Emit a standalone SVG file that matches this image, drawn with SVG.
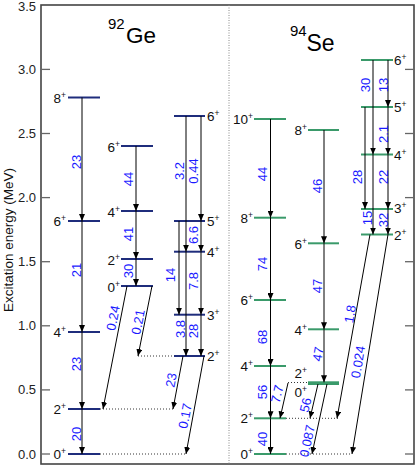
<svg xmlns="http://www.w3.org/2000/svg" width="415" height="474" viewBox="0 0 415 474">
<defs>
<marker id="ah" viewBox="0 0 7 6" refX="7" refY="3" markerWidth="7" markerHeight="6" markerUnits="userSpaceOnUse" orient="auto">
<path d="M0,0 L7,3 L0,6 z" fill="#000"/>
</marker>
</defs>
<style>
text{font-family:"Liberation Sans",Arial,sans-serif}
.tick{stroke:#666;stroke-width:1.3}
.tl{font-size:13px;fill:#222;text-anchor:end}
.ge{stroke:#1f2d7c;stroke-width:2}
.se{stroke:#3a9a6a;stroke-width:2}
.spin{font-size:13.5px;fill:#111}
.sup{font-size:8.5px}
.tr{stroke:#000;stroke-width:1;fill:none;marker-end:url(#ah)}
.dot{stroke:#000;stroke-width:0.8;stroke-dasharray:1,2}
.lab{font-size:13px;fill:#1a1aff;text-anchor:middle}
</style>
<rect width="415" height="474" fill="#fff"/>
<g id="axes">
<rect x="41" y="5" width="373" height="459" fill="none" stroke="#444" stroke-width="1.6"/>
<line x1="229" y1="5" x2="229" y2="464" stroke="#888" stroke-width="1" stroke-dasharray="1,1.5"/>
<g class="tick">
<line x1="41" y1="454" x2="50" y2="454"/><line x1="405" y1="454" x2="414" y2="454"/>
<line x1="41" y1="389.9" x2="50" y2="389.9"/><line x1="405" y1="389.9" x2="414" y2="389.9"/>
<line x1="41" y1="325.8" x2="50" y2="325.8"/><line x1="405" y1="325.8" x2="414" y2="325.8"/>
<line x1="41" y1="261.7" x2="50" y2="261.7"/><line x1="405" y1="261.7" x2="414" y2="261.7"/>
<line x1="41" y1="197.6" x2="50" y2="197.6"/><line x1="405" y1="197.6" x2="414" y2="197.6"/>
<line x1="41" y1="133.5" x2="50" y2="133.5"/><line x1="405" y1="133.5" x2="414" y2="133.5"/>
<line x1="41" y1="69.4" x2="50" y2="69.4"/><line x1="405" y1="69.4" x2="414" y2="69.4"/>
</g>
<text class="tl" x="36" y="458.5">0.0</text>
<text class="tl" x="36" y="394.4">0.5</text>
<text class="tl" x="36" y="330.3">1.0</text>
<text class="tl" x="36" y="266.2">1.5</text>
<text class="tl" x="36" y="202.1">2.0</text>
<text class="tl" x="36" y="138">2.5</text>
<text class="tl" x="36" y="73.9">3.0</text>
<text class="tl" x="36" y="10.5">3.5</text>
<text transform="translate(12.5,240) rotate(-90)" text-anchor="middle" font-size="13.5" fill="#111">Excitation energy (MeV)</text>
<text x="108" y="29" font-size="15" fill="#000">92</text>
<text x="126" y="43" font-size="22.5" fill="#000">Ge</text>
<text x="290" y="36" font-size="15" fill="#000">94</text>
<text x="306.5" y="51" font-size="23" fill="#000">Se</text>
</g>
<g id="ge-a8"><line class="ge" x1="68" y1="97.5" x2="100" y2="97.5"/><text class="spin" x="66" y="102.5" text-anchor="end">8<tspan class="sup" dy="-5">+</tspan></text></g>
<g id="ge-a6"><line class="ge" x1="68" y1="221" x2="100" y2="221"/><text class="spin" x="66" y="226" text-anchor="end">6<tspan class="sup" dy="-5">+</tspan></text></g>
<g id="ge-a4"><line class="ge" x1="68" y1="332" x2="100" y2="332"/><text class="spin" x="66" y="337" text-anchor="end">4<tspan class="sup" dy="-5">+</tspan></text></g>
<g id="ge-a2"><line class="ge" x1="68" y1="409" x2="100" y2="409"/><text class="spin" x="66" y="414" text-anchor="end">2<tspan class="sup" dy="-5">+</tspan></text></g>
<g id="ge-a0"><line class="ge" x1="68" y1="454" x2="100" y2="454"/><text class="spin" x="66" y="459" text-anchor="end">0<tspan class="sup" dy="-5">+</tspan></text></g>
<g id="ge-b6"><line class="ge" x1="121" y1="146" x2="153" y2="146"/><text class="spin" x="120" y="151.5" text-anchor="end">6<tspan class="sup" dy="-5">+</tspan></text></g>
<g id="ge-b4"><line class="ge" x1="121" y1="211" x2="153" y2="211"/><text class="spin" x="120" y="216.5" text-anchor="end">4<tspan class="sup" dy="-5">+</tspan></text></g>
<g id="ge-b2"><line class="ge" x1="121" y1="259" x2="153" y2="259"/><text class="spin" x="120" y="264.5" text-anchor="end">2<tspan class="sup" dy="-5">+</tspan></text></g>
<g id="ge-b0"><line class="ge" x1="121" y1="286" x2="153" y2="286"/><text class="spin" x="120" y="291.5" text-anchor="end">0<tspan class="sup" dy="-5">+</tspan></text></g>
<g id="ge-c6"><line class="ge" x1="174" y1="116" x2="205" y2="116"/><text class="spin" x="207" y="121">6<tspan class="sup" dy="-5">+</tspan></text></g>
<g id="ge-c5"><line class="ge" x1="174" y1="221" x2="205" y2="221"/><text class="spin" x="207" y="226">5<tspan class="sup" dy="-5">+</tspan></text></g>
<g id="ge-c4"><line class="ge" x1="174" y1="251.7" x2="205" y2="251.7"/><text class="spin" x="207" y="256.5">4<tspan class="sup" dy="-5">+</tspan></text></g>
<g id="ge-c3"><line class="ge" x1="174" y1="314.7" x2="205" y2="314.7"/><text class="spin" x="207" y="319.5">3<tspan class="sup" dy="-5">+</tspan></text></g>
<g id="ge-c2"><line class="ge" x1="174" y1="356" x2="205" y2="356"/><text class="spin" x="207" y="361">2<tspan class="sup" dy="-5">+</tspan></text></g>
<g id="se-a10"><line class="se" x1="254" y1="119" x2="286" y2="119"/><text class="spin" x="253" y="124" text-anchor="end">10<tspan class="sup" dy="-5">+</tspan></text></g>
<g id="se-a8"><line class="se" x1="254" y1="217.7" x2="286" y2="217.7"/><text class="spin" x="253" y="223" text-anchor="end">8<tspan class="sup" dy="-5">+</tspan></text></g>
<g id="se-a6"><line class="se" x1="254" y1="300" x2="286" y2="300"/><text class="spin" x="253" y="305" text-anchor="end">6<tspan class="sup" dy="-5">+</tspan></text></g>
<g id="se-a4"><line class="se" x1="254" y1="366" x2="286" y2="366"/><text class="spin" x="253" y="371" text-anchor="end">4<tspan class="sup" dy="-5">+</tspan></text></g>
<g id="se-a2"><line class="se" x1="254" y1="418.3" x2="286" y2="418.3"/><text class="spin" x="253" y="423.3" text-anchor="end">2<tspan class="sup" dy="-5">+</tspan></text></g>
<g id="se-a0"><line class="se" x1="254" y1="454" x2="286" y2="454"/><text class="spin" x="253" y="459" text-anchor="end">0<tspan class="sup" dy="-5">+</tspan></text></g>
<g id="se-b8"><line class="se" x1="308" y1="130" x2="339" y2="130"/><text class="spin" x="307" y="135" text-anchor="end">8<tspan class="sup" dy="-5">+</tspan></text></g>
<g id="se-b6"><line class="se" x1="308" y1="243.3" x2="339" y2="243.3"/><text class="spin" x="307" y="248.5" text-anchor="end">6<tspan class="sup" dy="-5">+</tspan></text></g>
<g id="se-b4"><line class="se" x1="308" y1="329.3" x2="339" y2="329.3"/><text class="spin" x="307" y="334.5" text-anchor="end">4<tspan class="sup" dy="-5">+</tspan></text></g>
<g id="se-b2"><line class="se" x1="308" y1="382.3" x2="339" y2="382.3"/><text class="spin" x="307" y="378.3" text-anchor="end">2<tspan class="sup" dy="-5">+</tspan></text></g>
<g id="se-b0"><line class="se" x1="308" y1="384" x2="339" y2="384"/><text class="spin" x="307" y="397" text-anchor="end">0<tspan class="sup" dy="-5">+</tspan></text></g>
<g id="se-c6"><line class="se" x1="361" y1="60" x2="393" y2="60"/><text class="spin" x="394" y="64.5">6<tspan class="sup" dy="-5">+</tspan></text></g>
<g id="se-c5"><line class="se" x1="361" y1="107" x2="393" y2="107"/><text class="spin" x="394" y="112">5<tspan class="sup" dy="-5">+</tspan></text></g>
<g id="se-c4"><line class="se" x1="361" y1="154.5" x2="393" y2="154.5"/><text class="spin" x="394" y="159.5">4<tspan class="sup" dy="-5">+</tspan></text></g>
<g id="se-c3"><line class="se" x1="361" y1="209" x2="393" y2="209"/><text class="spin" x="394" y="213">3<tspan class="sup" dy="-5">+</tspan></text></g>
<g id="se-c2"><line class="se" x1="361" y1="234.5" x2="393" y2="234.5"/><text class="spin" x="394" y="239.5">2<tspan class="sup" dy="-5">+</tspan></text></g>
<g id="connectors">
<line class="dot" x1="100" y1="409" x2="173" y2="409"/>
<line class="dot" x1="100" y1="454" x2="186" y2="454"/>
<line class="dot" x1="138" y1="356" x2="174" y2="356"/>
<line class="dot" x1="286" y1="418.3" x2="340" y2="418.3"/>
<line class="dot" x1="286" y1="454" x2="352" y2="454"/>
<line class="dot" x1="288" y1="382.5" x2="308" y2="382.5"/>
<line class="tr" x1="82" y1="97.5" x2="82" y2="221"/>
<line class="tr" x1="82" y1="221" x2="82" y2="332"/>
<line class="tr" x1="82" y1="332" x2="82" y2="409"/>
<line class="tr" x1="82" y1="409" x2="82" y2="454"/>
<line class="tr" x1="136" y1="146" x2="136" y2="211"/>
<line class="tr" x1="136" y1="211" x2="136" y2="259"/>
<line class="tr" x1="136" y1="259" x2="136" y2="286"/>
<line class="tr" x1="179" y1="221" x2="179" y2="314.7"/>
<line class="tr" x1="186" y1="116" x2="186" y2="251.7"/>
<line class="tr" x1="186" y1="251.7" x2="186" y2="356"/>
<line class="tr" x1="201" y1="116" x2="201" y2="221"/>
<line class="tr" x1="201" y1="221" x2="201" y2="251.7"/>
<line class="tr" x1="201" y1="251.7" x2="201" y2="314.7"/>
<line class="tr" x1="201" y1="314.7" x2="201" y2="356"/>
<line class="tr" x1="127" y1="286" x2="103" y2="409"/>
<line class="tr" x1="152" y1="286" x2="138" y2="356"/>
<line class="tr" x1="183" y1="356" x2="173" y2="409"/>
<line class="tr" x1="204" y1="356" x2="186" y2="454"/>
<line class="tr" x1="270.5" y1="119" x2="270.5" y2="217.7"/>
<line class="tr" x1="270.5" y1="217.7" x2="270.5" y2="300"/>
<line class="tr" x1="270.5" y1="300" x2="270.5" y2="366"/>
<line class="tr" x1="270.5" y1="366" x2="270.5" y2="418.3"/>
<line class="tr" x1="270.5" y1="418.3" x2="270.5" y2="454"/>
<line class="tr" x1="324" y1="130" x2="324" y2="243.3"/>
<line class="tr" x1="324" y1="243.3" x2="324" y2="329.3"/>
<line class="tr" x1="324" y1="329.3" x2="324" y2="382.3"/>
<line class="tr" x1="365" y1="107" x2="365" y2="209"/>
<line class="tr" x1="373" y1="60" x2="373" y2="154.5"/>
<line class="tr" x1="373" y1="154.5" x2="373" y2="234.5"/>
<line class="tr" x1="388" y1="60" x2="388" y2="107"/>
<line class="tr" x1="388" y1="107" x2="388" y2="154.5"/>
<line class="tr" x1="388" y1="154.5" x2="388" y2="209"/>
<line class="tr" x1="388" y1="209" x2="388" y2="234.5"/>
<line class="tr" x1="288" y1="383" x2="280" y2="418.3"/>
<line class="tr" x1="318" y1="384" x2="310" y2="418.3"/>
<line class="tr" x1="327" y1="384" x2="312" y2="454"/>
<line class="tr" x1="370" y1="234.5" x2="337" y2="418.3"/>
<line class="tr" x1="388" y1="234.5" x2="352" y2="454"/>
</g>
<g id="transition-labels">
<text class="lab" transform="translate(76,162) rotate(-90)" y="4.6">23</text>
<text class="lab" transform="translate(76,270) rotate(-90)" y="4.6">21</text>
<text class="lab" transform="translate(76,364) rotate(-90)" y="4.6">23</text>
<text class="lab" transform="translate(76,434) rotate(-90)" y="4.6">20</text>
<text class="lab" transform="translate(128,179) rotate(-90)" y="4.6">44</text>
<text class="lab" transform="translate(128,234) rotate(-90)" y="4.6">41</text>
<text class="lab" transform="translate(128,271) rotate(-90)" y="4.6">30</text>
<text class="lab" transform="translate(179,171) rotate(-90)" y="4.6">3.2</text>
<text class="lab" transform="translate(193,171) rotate(-90)" y="4.6">0.44</text>
<text class="lab" transform="translate(193,235) rotate(-90)" y="4.6">6.6</text>
<text class="lab" transform="translate(170,275) rotate(-90)" y="4.6">14</text>
<text class="lab" transform="translate(193,281) rotate(-90)" y="4.6">7.8</text>
<text class="lab" transform="translate(180,329) rotate(-90)" y="4.6">3.8</text>
<text class="lab" transform="translate(193,331) rotate(-90)" y="4.6">28</text>
<text class="lab" transform="translate(113,318) rotate(-79)" y="4.6">0.24</text>
<text class="lab" transform="translate(138,322) rotate(-79)" y="4.6">0.21</text>
<text class="lab" transform="translate(171,380) rotate(-79)" y="4.6">23</text>
<text class="lab" transform="translate(185,416) rotate(-79)" y="4.6">0.17</text>
<text class="lab" transform="translate(262,174) rotate(-90)" y="4.6">44</text>
<text class="lab" transform="translate(262,264) rotate(-90)" y="4.6">74</text>
<text class="lab" transform="translate(262,337) rotate(-90)" y="4.6">68</text>
<text class="lab" transform="translate(262,392) rotate(-90)" y="4.6">56</text>
<text class="lab" transform="translate(262,439) rotate(-90)" y="4.6">40</text>
<text class="lab" transform="translate(317,186) rotate(-90)" y="4.6">46</text>
<text class="lab" transform="translate(317,286) rotate(-90)" y="4.6">47</text>
<text class="lab" transform="translate(318,354) rotate(-80)" y="4.6">47</text>
<text class="lab" transform="translate(277,394) rotate(-77)" y="4.6">7.7</text>
<text class="lab" transform="translate(305.5,405) rotate(-77)" y="4.6">56</text>
<text class="lab" transform="translate(307,441) rotate(-78)" y="4.6">0.087</text>
<text class="lab" transform="translate(350,314) rotate(-80)" y="4.6">1.8</text>
<text class="lab" transform="translate(358,362) rotate(-80.5)" y="4.6">0.024</text>
<text class="lab" transform="translate(365,85) rotate(-90)" y="4.6">30</text>
<text class="lab" transform="translate(383,85) rotate(-90)" y="4.6">13</text>
<text class="lab" transform="translate(383,134) rotate(-90)" y="4.6">2.1</text>
<text class="lab" transform="translate(357,177) rotate(-90)" y="4.6">28</text>
<text class="lab" transform="translate(383,177) rotate(-90)" y="4.6">22</text>
<text class="lab" transform="translate(367,218) rotate(-90)" y="4.6">15</text>
<text class="lab" transform="translate(383,220) rotate(-90)" y="4.6">32</text>
</g>
</svg>
